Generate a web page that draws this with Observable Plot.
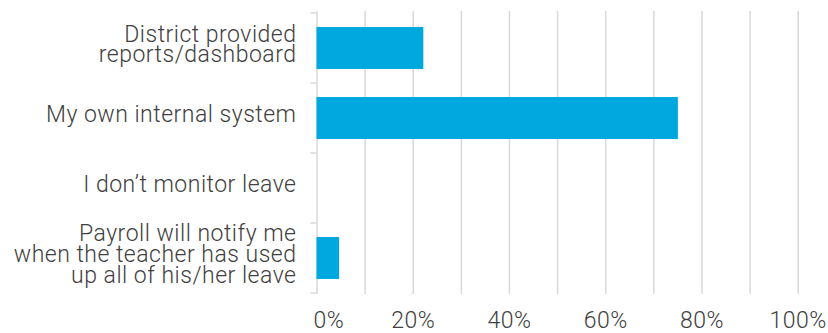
<!DOCTYPE html>
<html><head><meta charset="utf-8">
<script src="https://cdn.jsdelivr.net/npm/d3@7"></script>
<script src="https://cdn.jsdelivr.net/npm/@observablehq/plot@0.6"></script>
<style>body{margin:0;background:#fff}</style>
</head><body><div id="chart"></div>
<script>
const categories = [
  "District provided\nreports/dashboard",
  "My own internal system",
  "I don’t monitor leave",
  "Payroll will notify me\nwhen the teacher has used\nup all of his/her leave"
];
const values = [0.222, 0.751, 0, 0.047];
const gridValues = [0, 0.1, 0.2, 0.3, 0.4, 0.5, 0.6, 0.7, 0.8, 0.9, 1];
const tickValues = [0, 0.2, 0.4, 0.6, 0.8, 1];
const tickLabels = ["0%", "20%", "40%", "60%", "80%", "100%"];

const data = categories.map((c, i) => ({category: c, value: values[i]}));
const ticks = tickValues.map((v, i) => ({value: v, label: tickLabels[i]}));

const chart = Plot.plot({
  width: 828, height: 333,
  marginLeft: 316.5, marginRight: 30.3, marginTop: 11, marginBottom: 39,
  style: {fontFamily: "Roboto", fontWeight: 300, color: "#404040", background: "#fff", letterSpacing: "0.5px"},
  x: {domain: [0, 1], axis: null},
  y: {domain: categories, paddingInner: 0.4, paddingOuter: 0.2, axis: null},
  marks: [
    Plot.ruleX(gridValues, {stroke: "#d9d9d9", strokeWidth: 1.5}),
    Plot.barX(data, {y: "category", x: "value", fill: "#00a8e0"}),
    Plot.text(categories, {y: d => d, text: d => d, frameAnchor: "left", textAnchor: "end", dx: -20.5, dy: -3, fontSize: 23, lineHeight: 0.9}),
    Plot.text(ticks.filter(d => d.value > 0), {x: "value", text: "label", frameAnchor: "bottom", lineAnchor: "top", dy: 17, fontSize: 23}),
    Plot.text(ticks.filter(d => d.value === 0), {x: "value", text: "label", frameAnchor: "bottom", lineAnchor: "top", textAnchor: "start", dx: -3.5, dy: 17, fontSize: 23})
  ]
});
document.getElementById("chart").append(chart);

// band-boundary tick marks on the category axis
const ys = chart.scale("y");
const xs = chart.scale("x");
const bw = ys.bandwidth;
const step = ys.step != null ? ys.step : bw / (1 - ys.paddingInner);
const gap = (step - bw) / 2;
const bounds = ys.domain.map(d => ys.apply(d) - gap);
bounds.push(ys.apply(ys.domain[ys.domain.length - 1]) + bw + gap);
const x0 = xs.apply(0);
d3.select(chart).append("g")
  .attr("stroke", "#d9d9d9").attr("stroke-width", 1.5)
  .selectAll("line").data(bounds).join("line")
  .attr("x1", x0 - 6).attr("x2", x0)
  .attr("y1", d => d).attr("y2", d => d);
</script>
</body></html>
